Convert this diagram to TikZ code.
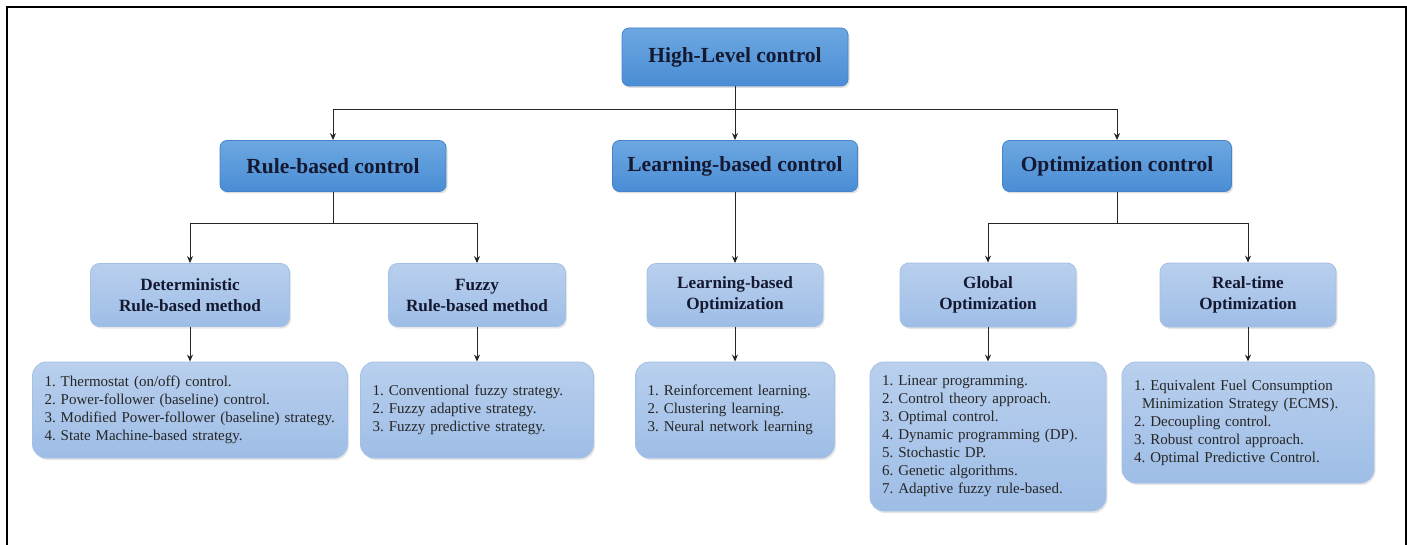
\documentclass[tikz,border=0pt]{standalone}
\usepackage{fontspec}
\setmainfont{Liberation Serif}
\usetikzlibrary{arrows.meta,shadows}
\definecolor{topA}{HTML}{6CA7E0}
\definecolor{topB}{HTML}{4A8DD5}
\definecolor{topD}{HTML}{4584CC}
\definecolor{subA}{HTML}{B9D0EE}
\definecolor{subB}{HTML}{9EBDE6}
\definecolor{subD}{HTML}{A3C0E5}
\definecolor{navy}{HTML}{141830}
\tikzset{
  lvlone/.style={draw=topD, line width=0.8pt, rounded corners=7pt, top color=topA, bottom color=topB,
    drop shadow={shadow xshift=1.5pt, shadow yshift=-2pt, opacity=0.25}, text=navy,
    font=\fontsize{21.5}{25}\selectfont\bfseries, align=center, inner sep=0pt},
  lvltwo/.style={draw=subD, line width=0.8pt, rounded corners=9pt, top color=subA, bottom color=subB,
    drop shadow={shadow xshift=1.5pt, shadow yshift=-2pt, opacity=0.2}, text=navy,
    font=\fontsize{17.2}{21}\selectfont\bfseries, align=center, inner sep=0pt},
  listbox/.style={draw=subD, line width=0.8pt, rounded corners=14pt, top color=subA, bottom color=subB,
    drop shadow={shadow xshift=1.5pt, shadow yshift=-2pt, opacity=0.2}, text=black!85,
    font=\frenchspacing\fontsize{15}{18}\selectfont, align=left, inner xsep=12pt, inner ysep=0pt},
  arr/.style={draw=black!85, line width=1pt, -{Stealth[length=7pt,width=6pt]}},
  ln/.style={draw=black!85, line width=1pt},
}
\begin{document}
\begin{tikzpicture}[x=1pt,y=-1pt]
\useasboundingbox (0,0) rectangle (1407,545);
\draw[line width=2pt] (7,545) -- (7,7) -- (1406,7) -- (1406,545);

% level 1
\node[lvlone, minimum width=226pt, minimum height=58pt] (hl) at (735,57) {High-Level control};
\node[lvlone, minimum width=226pt, minimum height=51pt] (rb) at (333,166) {Rule-based control};
\node[lvlone, minimum width=245pt, minimum height=51pt] (lc) at (735,166) {Learning-based control};
\node[lvlone, minimum width=229pt, minimum height=51pt] (oc) at (1117,166) {Optimization control};

% level 2
\node[lvltwo, minimum width=199pt, minimum height=63pt] (dr) at (190,295) {Deterministic\\Rule-based method};
\node[lvltwo, minimum width=177pt, minimum height=63pt] (fr) at (477,295) {Fuzzy\\Rule-based method};
\node[lvltwo, minimum width=176pt, minimum height=63pt] (lo) at (735,295) {Learning-based\\Optimization};
\node[lvltwo, minimum width=176pt, minimum height=64pt] (go) at (988,295) {Global\\Optimization};
\node[lvltwo, minimum width=176pt, minimum height=64pt] (ro) at (1248,295) {Real-time\\Optimization};

% lists
\node[listbox, text width=291pt, minimum height=96pt] (dl) at (190,410) {1. Thermostat (on/off) control.\\2. Power-follower (baseline) control.\\3. Modified Power-follower (baseline) strategy.\\4. State Machine-based strategy.};
\node[listbox, text width=209pt, minimum height=96pt] (fl) at (477,410) {1. Conventional fuzzy strategy.\\2. Fuzzy adaptive strategy.\\3. Fuzzy predictive strategy.};
\node[listbox, text width=175pt, minimum height=96pt] (ll) at (735,410) {1. Reinforcement learning.\\2. Clustering learning.\\3. Neural network learning};
\node[listbox, text width=212pt, minimum height=149pt] (gl) at (988,436.5) {1. Linear programming.\\2. Control theory approach.\\3. Optimal control.\\4. Dynamic programming (DP).\\5. Stochastic DP.\\6. Genetic algorithms.\\7. Adaptive fuzzy rule-based.};
\node[listbox, text width=228pt, minimum height=121pt] (rl) at (1248,422.5) {1. Equivalent Fuel Consumption\\\hspace*{8pt}Minimization Strategy (ECMS).\\2. Decoupling control.\\3. Robust control approach.\\4. Optimal Predictive Control.};

% connectors
\coordinate (busA) at (0,110);
\coordinate (busB) at (0,224);
\draw[ln] (hl.south) -- (hl.south |- busA);
\draw[arr] (hl.south |- busA) -| (rb.north);
\draw[arr] (hl.south |- busA) -| (oc.north);
\draw[arr] (hl.south) -- (lc.north);

\draw[ln] (rb.south) -- (rb.south |- busB);
\draw[arr] (rb.south |- busB) -| (dr.north);
\draw[arr] (rb.south |- busB) -| (fr.north);

\draw[arr] (lc.south) -- (lo.north);

\draw[ln] (oc.south) -- (oc.south |- busB);
\draw[arr] (oc.south |- busB) -| (go.north);
\draw[arr] (oc.south |- busB) -| (ro.north);

\draw[arr] (dr.south) -- (dl.north);
\draw[arr] (fr.south) -- (fl.north);
\draw[arr] (lo.south) -- (ll.north);
\draw[arr] (go.south) -- (gl.north);
\draw[arr] (ro.south) -- (rl.north);
\end{tikzpicture}
\end{document}
